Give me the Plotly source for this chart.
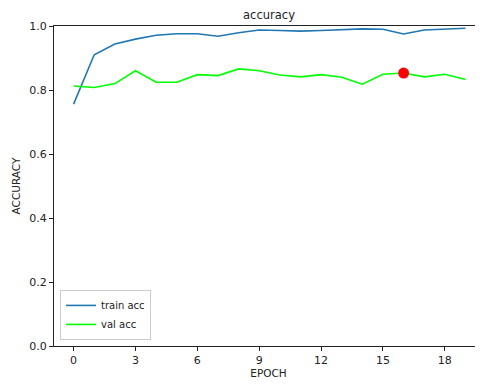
import plotly.graph_objects as go

epochs = list(range(20))
train_acc = [0.756, 0.910, 0.944, 0.959, 0.971, 0.976, 0.976, 0.968, 0.979, 0.9875,
             0.986, 0.984, 0.986, 0.9875, 0.991, 0.990, 0.975, 0.9875, 0.991, 0.993]
val_acc = [0.8125, 0.808, 0.820, 0.860, 0.824, 0.824, 0.848, 0.845, 0.866, 0.860,
           0.847, 0.841, 0.848, 0.840, 0.818, 0.849, 0.853, 0.841, 0.849, 0.833]
best_epoch = 16
x_ticks = [0, 3, 6, 9, 12, 15, 18]
y_ticks = [0.0, 0.2, 0.4, 0.6, 0.8, 1.0]

FONT = "DejaVu Sans"
W, H = 475, 377  # page body has an 8px margin

fig = go.Figure()
fig.add_trace(go.Scatter(x=epochs, y=train_acc, mode="lines", name="train acc",
                         line=dict(color="#1f77b4", width=1.6)))
fig.add_trace(go.Scatter(x=epochs, y=val_acc, mode="lines", name="val acc",
                         line=dict(color="#00ff00", width=1.6)))
fig.add_trace(go.Scatter(x=[best_epoch], y=[val_acc[best_epoch]], mode="markers",
                         showlegend=False, marker=dict(color="#ff0000", size=11)))

axis_common = dict(showline=True, linecolor="#222", linewidth=1, mirror=True,
                   ticks="outside", ticklen=4, tickcolor="#222", showgrid=False,
                   zeroline=False, automargin=False,
                   tickfont=dict(size=11, color="#222", family=FONT))

fig.update_layout(
    width=W, height=H,
    margin=dict(l=46, r=0, t=18, b=39, autoexpand=False),
    plot_bgcolor="white", paper_bgcolor="white",
    font=dict(family=FONT, color="#222"),
    title=dict(text="accuracy", x=261 / W, xanchor="center", y=1,
               yanchor="top", pad=dict(t=3),
               font=dict(size=11.5, family=FONT, color="#222")),
    xaxis=dict(range=[-0.95, 19.85], tickvals=x_ticks, ticktext=[str(v) for v in x_ticks],
               title=dict(text="EPOCH", font=dict(size=10.5, family=FONT), standoff=2),
               **axis_common),
    yaxis=dict(range=[0, 1], tickvals=y_ticks, ticktext=[f"{v:.1f}" for v in y_ticks],
               title=dict(text="ACCURACY", font=dict(size=10.5, family=FONT), standoff=6),
               **axis_common),
    legend=dict(x=0.014, y=0.019, xanchor="left", yanchor="bottom",
                bordercolor="#ccc", borderwidth=1, bgcolor="rgba(255,255,255,0.8)",
                font=dict(size=10, family=FONT), itemwidth=30, tracegroupgap=0),
    showlegend=True,
)

fig.write_html("out.html")
